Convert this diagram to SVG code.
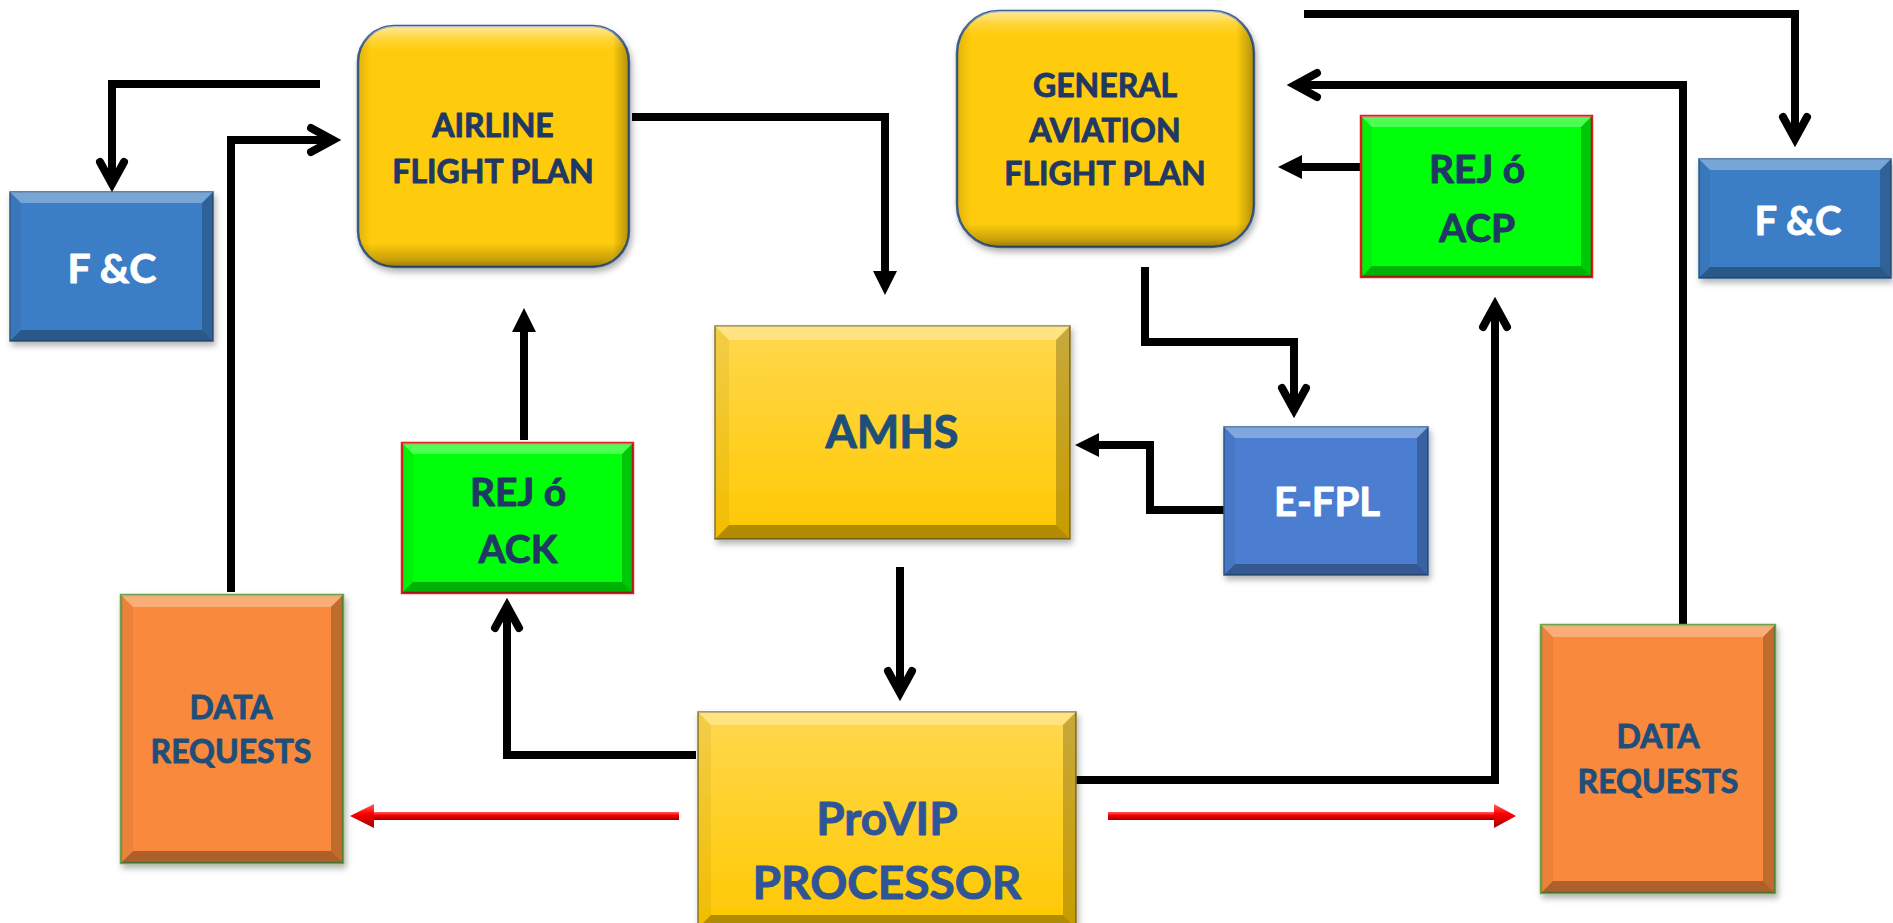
<svg xmlns="http://www.w3.org/2000/svg" width="1893" height="923" viewBox="0 0 1893 923">
<defs>
<style>
.t{font-family:Lato,"Open Sans","Liberation Sans",sans-serif;font-weight:700;text-anchor:middle;stroke-width:0.9;stroke-linejoin:round}
.navy{fill:#203864;stroke:#203864}
.blu{fill:#1F4E79;stroke:#1F4E79}
.pv{fill:#2F5597;stroke:#2F5597}
.wh{fill:#FFFFFF;stroke:#FFFFFF}
.bt{fill:#FFFFFF;fill-opacity:0.3}
.bb{fill:#000000;fill-opacity:0.3}
.bl{fill:#000000;fill-opacity:0.05}
.br{fill:#000000;fill-opacity:0.22}
.conn{fill:none;stroke:#000;stroke-width:8;stroke-linejoin:miter;stroke-linecap:butt}
.ylw{fill:url(#gY);stroke:#8A7A30;stroke-width:1.5}
.blue1{fill:#3A7EC5;stroke:#2E5C8E;stroke-width:1.5}
.blue2{fill:#4C7ED0;stroke:#2E5C8E;stroke-width:1.5}
.grn{fill:#00FF0A;stroke:#E02020;stroke-width:2.5}
.org{fill:#F98A3C;stroke:#6FA04A;stroke-width:2.5}
.rr{fill:#FFCC08;stroke:#41618C;stroke-width:2.5}
</style>
<linearGradient id="gY" x1="0" y1="0" x2="0" y2="1">
<stop offset="0" stop-color="#FFD84E"/>
<stop offset="1" stop-color="#FFC800"/>
</linearGradient>
<linearGradient id="rrV" x1="0" y1="0" x2="0" y2="1">
<stop offset="0" stop-color="#FFFFFF" stop-opacity="0.6"/>
<stop offset="0.05" stop-color="#FFFFFF" stop-opacity="0.2"/>
<stop offset="0.1" stop-color="#FFFFFF" stop-opacity="0"/>
<stop offset="0.9" stop-color="#000000" stop-opacity="0"/>
<stop offset="0.97" stop-color="#000000" stop-opacity="0.22"/>
<stop offset="1" stop-color="#000000" stop-opacity="0.4"/>
</linearGradient>
<linearGradient id="rrH" x1="0" y1="0" x2="1" y2="0">
<stop offset="0" stop-color="#000000" stop-opacity="0.12"/>
<stop offset="0.05" stop-color="#000000" stop-opacity="0"/>
<stop offset="0.94" stop-color="#000000" stop-opacity="0"/>
<stop offset="1" stop-color="#000000" stop-opacity="0.3"/>
</linearGradient>
<linearGradient id="gR" x1="0" y1="0" x2="0" y2="1">
<stop offset="0" stop-color="#FF6060"/>
<stop offset="0.4" stop-color="#FF0000"/>
<stop offset="1" stop-color="#A00000"/>
</linearGradient>
<filter id="sh" x="-10%" y="-10%" width="125%" height="130%">
<feDropShadow dx="2" dy="4" stdDeviation="3" flood-color="#000" flood-opacity="0.3"/>
</filter>
<marker id="chev" markerUnits="userSpaceOnUse" markerWidth="40" markerHeight="40" refX="0" refY="0" orient="auto" overflow="visible">
<path d="M-22,-12 L0,0 L-22,12" fill="none" stroke="#000" stroke-width="8" stroke-linecap="round" stroke-linejoin="miter"/>
</marker>
<marker id="tri" markerUnits="userSpaceOnUse" markerWidth="40" markerHeight="40" refX="0" refY="0" orient="auto" overflow="visible">
<path d="M-1,-12 L23,0 L-1,12 Z" fill="#000"/>
</marker>
</defs>
<rect width="1893" height="923" fill="#FFFFFF"/>

<g id="connectors">
<path class="conn" d="M320,84 H112 V184" marker-end="url(#chev)"/>
<path class="conn" d="M231,592 V140 H333" marker-end="url(#chev)"/>
<path class="conn" d="M524,440 V331" marker-end="url(#tri)"/>
<path class="conn" d="M632,117 H885 V272" marker-end="url(#tri)"/>
<path class="conn" d="M1145,267 V342 H1294 V410" marker-end="url(#chev)"/>
<path class="conn" d="M1224,510 H1150 V445 H1098" marker-end="url(#tri)"/>
<path class="conn" d="M900,567 V693" marker-end="url(#chev)"/>
<path class="conn" d="M696,755 H507 V606" marker-end="url(#chev)"/>
<path class="conn" d="M1070,780 H1495 V305" marker-end="url(#chev)"/>
<path class="conn" d="M1361,167 H1301" marker-end="url(#tri)"/>
<path class="conn" d="M1304,14 H1795 V139" marker-end="url(#chev)"/>
<path class="conn" d="M1683,625 V85 H1295" marker-end="url(#chev)"/>
<rect x="373" y="812" width="306" height="8" fill="url(#gR)"/>
<polygon points="350,816 374,804 374,828" fill="url(#gR)"/>
<rect x="1108" y="812" width="387" height="8" fill="url(#gR)"/>
<polygon points="1516,816 1494,804 1494,828" fill="url(#gR)"/>
</g>

<g id="fc-left">
<rect class="blue1" x="10" y="192" width="203" height="149" filter="url(#sh)"/>
<polygon class="bt" points="10,192 213,192 202,203 21,203"/>
<polygon class="bb" points="10,341 213,341 202,330 21,330"/>
<polygon class="bl" points="10,192 21,203 21,330 10,341"/>
<polygon class="br" points="213,192 202,203 202,330 213,341"/>
<text class="t wh" x="112" y="283" font-size="41">F &amp;C</text>
</g>

<g id="airline-fp">
<rect class="rr" x="358" y="26" width="271" height="241" rx="36" filter="url(#sh)"/>
<rect x="358" y="26" width="271" height="241" rx="36" fill="url(#rrV)"/>
<rect x="358" y="26" width="271" height="241" rx="36" fill="url(#rrH)"/>
<text class="t navy" x="493" y="137" font-size="32">AIRLINE</text>
<text class="t navy" x="493" y="183" font-size="32">FLIGHT PLAN</text>
</g>

<g id="ga-fp">
<rect class="rr" x="957" y="11" width="297" height="236" rx="42" filter="url(#sh)"/>
<rect x="957" y="11" width="297" height="236" rx="42" fill="url(#rrV)"/>
<rect x="957" y="11" width="297" height="236" rx="42" fill="url(#rrH)"/>
<text class="t navy" x="1105" y="97" font-size="32">GENERAL</text>
<text class="t navy" x="1105" y="142" font-size="32">AVIATION</text>
<text class="t navy" x="1105" y="185" font-size="32">FLIGHT PLAN</text>
</g>

<g id="rej-acp">
<rect class="grn" x="1361" y="116" width="231" height="161"/>
<polygon class="bt" points="1361,116 1592,116 1581,127 1372,127"/>
<polygon class="bb" points="1361,277 1592,277 1581,266 1372,266"/>
<polygon class="bl" points="1361,116 1372,127 1372,266 1361,277"/>
<polygon class="br" points="1592,116 1581,127 1581,266 1592,277"/>
<text class="t navy" x="1477" y="183" font-size="39">REJ ó</text>
<text class="t navy" x="1477" y="242" font-size="39">ACP</text>
</g>

<g id="fc-right">
<rect class="blue1" x="1699" y="159" width="192" height="119" filter="url(#sh)"/>
<polygon class="bt" points="1699,159 1891,159 1880,170 1710,170"/>
<polygon class="bb" points="1699,278 1891,278 1880,267 1710,267"/>
<polygon class="bl" points="1699,159 1710,170 1710,267 1699,278"/>
<polygon class="br" points="1891,159 1880,170 1880,267 1891,278"/>
<text class="t wh" x="1798" y="235" font-size="40">F &amp;C</text>
</g>

<g id="amhs">
<rect class="ylw" x="715" y="326" width="355" height="213" filter="url(#sh)"/>
<polygon class="bt" points="715,326 1070,326 1056,340 729,340"/>
<polygon class="bb" points="715,539 1070,539 1056,525 729,525"/>
<polygon class="bl" points="715,326 729,340 729,525 715,539"/>
<polygon class="br" points="1070,326 1056,340 1056,525 1070,539"/>
<text class="t blu" x="892" y="448" font-size="45">AMHS</text>
</g>

<g id="rej-ack">
<rect class="grn" x="402" y="443" width="231" height="150"/>
<polygon class="bt" points="402,443 633,443 622,454 413,454"/>
<polygon class="bb" points="402,593 633,593 622,582 413,582"/>
<polygon class="bl" points="402,443 413,454 413,582 402,593"/>
<polygon class="br" points="633,443 622,454 622,582 633,593"/>
<text class="t navy" x="518" y="506" font-size="39">REJ ó</text>
<text class="t navy" x="518" y="563" font-size="39">ACK</text>
</g>

<g id="e-fpl">
<rect class="blue2" x="1224" y="427" width="204" height="148" filter="url(#sh)"/>
<polygon class="bt" points="1224,427 1428,427 1417,438 1235,438"/>
<polygon class="bb" points="1224,575 1428,575 1417,564 1235,564"/>
<polygon class="bl" points="1224,427 1235,438 1235,564 1224,575"/>
<polygon class="br" points="1428,427 1417,438 1417,564 1428,575"/>
<text class="t wh" x="1327" y="516" font-size="40">E-FPL</text>
</g>

<g id="data-left">
<rect class="org" x="121" y="595" width="222" height="268" filter="url(#sh)"/>
<polygon class="bt" points="121,595 343,595 331,607 133,607"/>
<polygon class="bb" points="121,863 343,863 331,851 133,851"/>
<polygon class="bl" points="121,595 133,607 133,851 121,863"/>
<polygon class="br" points="343,595 331,607 331,851 343,863"/>
<text class="t blu" x="231" y="719" font-size="32">DATA</text>
<text class="t blu" x="231" y="763" font-size="32">REQUESTS</text>
</g>

<g id="provip">
<rect class="ylw" x="698" y="712" width="378" height="216" filter="url(#sh)"/>
<polygon class="bt" points="698,712 1076,712 1063,725 711,725"/>
<polygon class="bb" points="698,928 1076,928 1063,915 711,915"/>
<polygon class="bl" points="698,712 711,725 711,915 698,928"/>
<polygon class="br" points="1076,712 1063,725 1063,915 1076,928"/>
<text class="t pv" x="887" y="835" font-size="46">ProVIP</text>
<text class="t pv" x="887" y="899" font-size="46">PROCESSOR</text>
</g>

<g id="data-right">
<rect class="org" x="1541" y="625" width="234" height="268" filter="url(#sh)"/>
<polygon class="bt" points="1541,625 1775,625 1763,637 1553,637"/>
<polygon class="bb" points="1541,893 1775,893 1763,881 1553,881"/>
<polygon class="bl" points="1541,625 1553,637 1553,881 1541,893"/>
<polygon class="br" points="1775,625 1763,637 1763,881 1775,893"/>
<text class="t blu" x="1658" y="748" font-size="32">DATA</text>
<text class="t blu" x="1658" y="793" font-size="32">REQUESTS</text>
</g>
</svg>
